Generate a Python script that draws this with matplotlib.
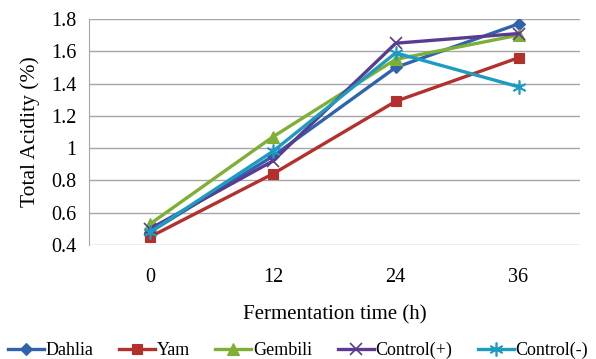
import matplotlib
matplotlib.use("Agg")
import matplotlib.pyplot as plt

plt.rcParams['font.family'] = ['Liberation Serif', 'DejaVu Serif']

times = ["0", "12", "24", "36"]
dahlia = [0.48, 0.95, 1.50, 1.77]
yam = [0.45, 0.84, 1.29, 1.56]
gembili = [0.53, 1.07, 1.55, 1.70]
control_pos = [0.50, 0.92, 1.65, 1.71]
control_neg = [0.48, 0.98, 1.59, 1.38]
yticks = [0.4, 0.6, 0.8, 1.0, 1.2, 1.4, 1.6, 1.8]
ytick_labels = ["0.4", "0.6", "0.8", "1", "1.2", "1.4", "1.6", "1.8"]

fig = plt.figure(figsize=(5.96, 3.59), dpi=100)
ax = fig.add_axes([0.149, 0.318, 0.824, 0.629])

x = list(range(len(times)))
series = [
    ("Dahlia", dahlia, "#2F64AC", "D", 6),
    ("Yam", yam, "#B3302D", "s", 7),
    ("Gembili", gembili, "#7FAF34", "^", 8),
    ("Control(+)", control_pos, "#5A3B90", "x", 9),
    ("Control(-)", control_neg, "#1C9CC0", (6, 2, 0), 10),
]
for name, vals, c, m, ms in series:
    ax.plot(x, vals, color=c, marker=m, markersize=ms, linewidth=2.4,
            markeredgecolor=c, markeredgewidth=1.2 if m in ("x",) or isinstance(m, tuple) else 0.8,
            label=name)

ax.set_xlim(-0.5, 3.5)
ax.set_ylim(0.4, 1.8)
ax.set_yticks(yticks)
ax.set_yticklabels(ytick_labels)
ax.set_xticks(x)
ax.set_xticklabels(times)
ax.yaxis.grid(True, color="#A6A6A6", linewidth=1.0)
ax.set_axisbelow(True)
for s in ["top", "right", "bottom"]:
    ax.spines[s].set_visible(False)
ax.spines["left"].set_color("#A6A6A6")
ax.tick_params(axis="both", length=0, labelsize=14.5, pad=9)
ax.tick_params(axis="x", pad=17)
ax.set_ylabel("Total Acidity (%)", fontsize=15.5, labelpad=8)
ax.set_xlabel("Fermentation time (h)", fontsize=15, labelpad=13)

fig.legend(loc="lower center", bbox_to_anchor=(0.5, -0.02), ncol=5, frameon=False,
           fontsize=13, handlelength=2.0, handletextpad=0.1, columnspacing=1.4,
           borderaxespad=0.0)

fig.savefig("out.png", dpi=100)
